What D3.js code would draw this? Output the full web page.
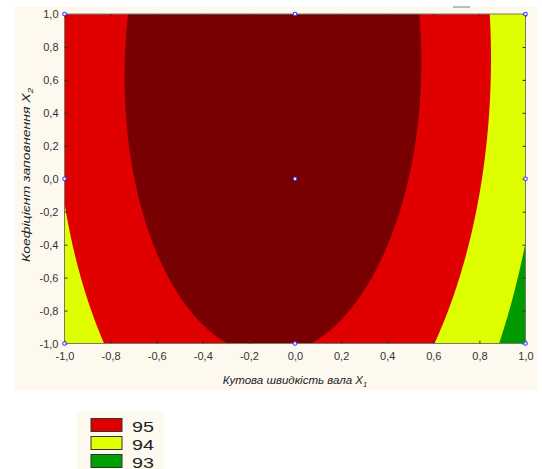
<!DOCTYPE html>
<html><head><meta charset="utf-8">
<script src="https://cdn.jsdelivr.net/npm/d3@7"></script>
<style>body{margin:0;background:#fff;} text{font-family:"Liberation Sans",Arial,sans-serif;}</style>
</head><body><svg id="c" width="542" height="469"></svg>
<script>
const xTicks = [-1, -0.8, -0.6, -0.4, -0.2, 0, 0.2, 0.4, 0.6, 0.8, 1];
const yTicks = [-1, -0.8, -0.6, -0.4, -0.2, 0, 0.2, 0.4, 0.6, 0.8, 1];
const levels = [93, 94, 95];
const levelColors = ["#dfff00", "#e10000", "#780000"];
const belowColor = "#009a00";
// response surface: b0, b1 (X1), b2 (X2), b12 (X1X2), b11 (X1^2), b22 (X2^2)
const coefficients = [95.715, -0.425, 0.3845, 0.04, -2.083, -0.287];
const designX = [-1, 0, 1, -1, 0, 1, -1, 0, 1];
const designY = [1, 1, 1, 0, 0, 0, -1, -1, -1];
const legendLabels = ["95", "94", "93"];
const legendColors = ["#e00000", "#e0ff00", "#00a000"];

const svg = d3.select("#c");
const L = 64.5, R = 525.5, T = 14, B = 343.5;
const x = d3.scaleLinear().domain([-1, 1]).range([L, R]);
const y = d3.scaleLinear().domain([-1, 1]).range([B, T]);
const fmt = d => d3.format(".1f")(d).replace(".", ",").replace("−", "-");

// panel background
svg.append("rect").attr("x", 14).attr("y", 7).attr("width", 524).attr("height", 383).attr("fill", "#fdf9ef");
svg.append("line").attr("x1", 453).attr("x2", 470).attr("y1", 7).attr("y2", 7).attr("stroke", "#6a8a80").attr("stroke-width", 1);

// surface grid
const n = 241, m = 241;
const [b0, b1, b2, b12, b11, b22] = coefficients;
const f = (a, b) => b0 + b1 * a + b2 * b + b12 * a * b + b11 * a * a + b22 * b * b;
const values = new Array(n * m);
for (let j = 0; j < m; j++) for (let i = 0; i < n; i++) {
  const xa = -1 + 2 * i / (n - 1), yb = 1 - 2 * j / (m - 1);
  values[j * n + i] = f(xa, yb);
}
const contours = d3.contours().size([n, m]).thresholds(levels)(values);
const proj = d3.geoTransform({point(px, py) {
  this.stream.point(x(-1 + 2 * (px - 0.5) / (n - 1)), y(1 - 2 * (py - 0.5) / (m - 1)));
}});
const path = d3.geoPath(proj);

svg.append("clipPath").attr("id", "clip").append("rect").attr("x", L).attr("y", T).attr("width", R - L).attr("height", B - T);
const g = svg.append("g").attr("clip-path", "url(#clip)");
g.append("rect").attr("x", L).attr("y", T).attr("width", R - L).attr("height", B - T).attr("fill", belowColor);
g.selectAll("path.c").data(contours).join("path").attr("class", "c")
  .attr("d", path).attr("fill", (d, i) => levelColors[i]);

// frame
svg.append("rect").attr("x", L).attr("y", T).attr("width", R - L).attr("height", B - T)
  .attr("fill", "none").attr("stroke", "#7a7a6a").attr("stroke-width", 1);

// axes (inward ticks)
const ax = svg.append("g").attr("transform", `translate(0,${B})`)
  .call(d3.axisBottom(x).tickValues(xTicks).tickFormat(fmt).tickSizeInner(-3).tickSizeOuter(0).tickPadding(9));
const axT = svg.append("g").attr("transform", `translate(0,${T})`)
  .call(d3.axisTop(x).tickValues(xTicks).tickFormat("").tickSizeInner(-3).tickSizeOuter(0));
const ay = svg.append("g").attr("transform", `translate(${L},0)`)
  .call(d3.axisLeft(y).tickValues(yTicks).tickFormat(fmt).tickSizeInner(-3).tickSizeOuter(0).tickPadding(6));
const ayR = svg.append("g").attr("transform", `translate(${R},0)`)
  .call(d3.axisRight(y).tickValues(yTicks).tickFormat("").tickSizeInner(-3).tickSizeOuter(0));
[ax, axT, ay, ayR].forEach(a => {
  a.select(".domain").remove();
  a.selectAll(".tick line").attr("stroke", "#333");
  a.selectAll("text").attr("font-size", 11).attr("fill", "#333")
    .attr("font-family", "'Liberation Sans', Arial, sans-serif");
});

// design points
svg.append("g").selectAll("circle").data(designX.map((d, i) => [d, designY[i]])).join("circle")
  .attr("cx", d => x(d[0])).attr("cy", d => y(d[1])).attr("r", 1.8)
  .attr("fill", "#ffffff").attr("stroke", "#3a3aff").attr("stroke-width", 1.1);

// axis titles
const xt = svg.append("text").attr("x", 295).attr("y", 384).attr("text-anchor", "middle")
  .attr("font-size", 11.5).attr("font-style", "italic").attr("fill", "#222");
xt.append("tspan").text("Кутова швидкість вала X");
xt.append("tspan").text("1").attr("font-size", 7.5).attr("dy", 3);
const yt = svg.append("text").attr("transform", "translate(30,175) rotate(-90)").attr("text-anchor", "middle")
  .attr("font-size", 11).attr("font-style", "italic").attr("fill", "#222")
  .attr("textLength", 174).attr("lengthAdjust", "spacingAndGlyphs");
yt.append("tspan").text("Коефіцієнт заповнення X");
yt.append("tspan").text("2").attr("font-size", 7.5).attr("dy", 3);

// legend
svg.append("rect").attr("x", 77).attr("y", 411).attr("width", 87).attr("height", 58).attr("fill", "#fdf9ef");
const lg = svg.append("g").selectAll("g").data(legendLabels).join("g")
  .attr("transform", (d, i) => `translate(91,${418.5 + i * 18})`);
lg.append("rect").attr("width", 31).attr("height", 13).attr("fill", (d, i) => legendColors[i])
  .attr("stroke", "#333").attr("stroke-width", 1);
lg.append("text").attr("x", 41).attr("y", 13).attr("font-size", 15.5).attr("fill", "#222")
  .attr("textLength", 22).attr("lengthAdjust", "spacingAndGlyphs").text(d => d);
</script></body></html>
